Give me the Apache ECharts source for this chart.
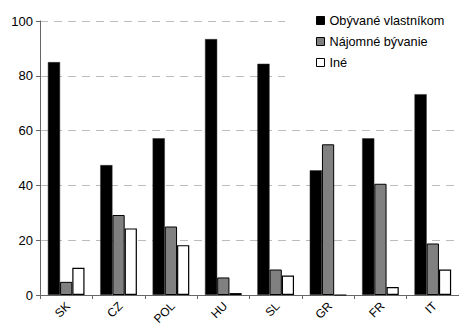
<!DOCTYPE html>
<html><head><meta charset="utf-8">
<script src="https://cdn.jsdelivr.net/npm/echarts@6/dist/echarts.min.js"></script>
<style>html,body{margin:0;padding:0;background:#fff}#c{width:459px;height:331px}</style>
</head><body><div id="c"></div>
<script>
const categories = ["SK","CZ","POL","HU","SL","GR","FR","IT"];
const ownerOccupied = [85, 47.4, 57.2, 93.4, 84.4, 45.5, 57.2, 73.3];
const rented = [4.8, 29.2, 25.0, 6.4, 9.3, 55.0, 40.6, 18.8];
const other = [9.9, 24.3, 18.2, 0.7, 7.1, 0, 2.9, 9.3];
const seriesNames = ["Obývané vlastníkom","Nájomné bývanie","Iné"];
const yTicks = [0, 20, 40, 60, 80, 100];

const chart = echarts.init(document.getElementById('c'), null, {renderer:'svg'});
const font = 'Liberation Sans, Arial, sans-serif';
const colors = ['#000000','#808080','#ffffff'];
chart.setOption({
  animation:false,
  textStyle:{fontFamily:font},
  grid:{left:40, right:0, top:21, bottom:36, containLabel:false},
  legend:{
    left:285, top:8, orient:'vertical', itemWidth:8, itemHeight:8, itemGap:8,
    backgroundColor:'#fff', padding:[6,20,10,31],
    textStyle:{fontFamily:font, fontSize:12.7, color:'#000'},
    data: seriesNames.map((n,i)=>({name:n, icon:'rect', itemStyle:{color:colors[i], borderColor:'#000', borderWidth:1}}))
  },
  xAxis:{
    type:'category', data:categories,
    axisLine:{lineStyle:{color:'#666', width:1}},
    axisTick:{show:true, length:4, lineStyle:{color:'#666'}},
    axisLabel:{show:false}
  },
  yAxis:{
    type:'value', min:yTicks[0], max:yTicks[yTicks.length-1], interval:20,
    axisLine:{show:true, lineStyle:{color:'#666'}},
    axisTick:{show:true, length:4, lineStyle:{color:'#666'}},
    axisLabel:{fontSize:13, color:'#000', fontFamily:font, margin:7},
    splitLine:{show:true, lineStyle:{color:'#bbb', type:[8,6], width:1}}
  },
  series:[
    {name:seriesNames[0], type:'bar', data:ownerOccupied, barGap:'0%', barCategoryGap:'30%',
     itemStyle:{color:'#000', borderColor:'#333', borderWidth:0.5}},
    {name:seriesNames[1], type:'bar', data:rented, barGap:'0%', barCategoryGap:'30%',
     itemStyle:{color:'#808080', borderColor:'#000', borderWidth:1}},
    {name:seriesNames[2], type:'bar', data:other, barGap:'0%', barCategoryGap:'30%',
     itemStyle:{color:'#fff', borderColor:'#000', borderWidth:1.2}}
  ]
});

// Category labels, rotated 45°, placed at each category position given by the x axis scale.
const y0 = chart.convertToPixel({yAxisIndex:0}, 0);
chart.setOption({
  graphic: categories.map(c => ({
    type:'text', x: chart.convertToPixel({xAxisIndex:0}, c) + 2, y: y0 + 9, rotation: Math.PI/4,
    style:{text:c, align:'right', verticalAlign:'middle', fill:'#000', font:'12px ' + font}
  }))
});
</script></body></html>
